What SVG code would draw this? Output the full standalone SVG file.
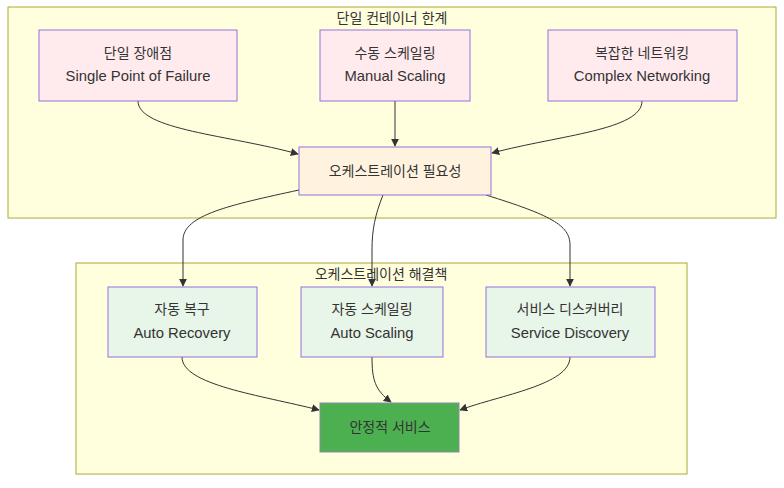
<svg xmlns="http://www.w3.org/2000/svg" width="784" height="488" viewBox="0 0 784 488">
<defs>
<marker id="arr" viewBox="0 0 10 10" refX="9" refY="5" markerWidth="8" markerHeight="8" orient="auto" markerUnits="userSpaceOnUse">
<path d="M0,0 L10,5 L0,10 z" fill="#333"/>
</marker>
<style>
.cl{fill:#ffffde;stroke:#aaaa33;stroke-width:1}
.t{font-family:"Liberation Sans","Noto Sans CJK KR",sans-serif;font-size:14px;fill:#333;text-anchor:middle}
.l{font-size:14.8px}
.pk{fill:#ffebee;stroke:#9370db;stroke-width:1}
.or{fill:#fff3e0;stroke:#9370db;stroke-width:1}
.gr{fill:#e8f5e9;stroke:#9370db;stroke-width:1}
.fin{fill:#4caf50;stroke:#8a8aaa;stroke-width:1}
.e{fill:none;stroke:#333;stroke-width:1;marker-end:url(#arr)}
</style>
</defs>
<rect width="784" height="488" fill="#fff"/>
<g id="cluster-limits">
<rect class="cl" x="8" y="7" width="768" height="211"/>
<text class="t" x="392" y="23">단일 컨테이너 한계</text>
</g>
<g id="cluster-solutions">
<rect class="cl" x="76" y="263" width="611" height="211"/>
<text class="t" x="381" y="279">오케스트레이션 해결책</text>
</g>
<g id="connectors">
<path class="e" d="M138,101 C138,130 230,135 298,154"/>
<path class="e" d="M395,101 L395,146"/>
<path class="e" d="M642,101 C642,130 560,135 492,153"/>
<path class="e" d="M299,190 C230,205 183,215 183,240 L183,286"/>
<path class="e" d="M383,195 C375,215 372,230 372,250 L372,286"/>
<path class="e" d="M486,195 C550,215 570,225 570,245 L570,286"/>
<path class="e" d="M182,357 C182,385 260,395 319,410"/>
<path class="e" d="M372,357 C372,380 375,390 391,402"/>
<path class="e" d="M570,357 C570,385 500,395 460,410"/>
</g>
<g id="node-spof">
<rect class="pk" x="39" y="30" width="198" height="71"/>
<text class="t" x="138" y="58">단일 장애점</text>
<text class="t l" x="138" y="81">Single Point of Failure</text>
</g>
<g id="node-manual">
<rect class="pk" x="320" y="30" width="150" height="71"/>
<text class="t" x="395" y="58">수동 스케일링</text>
<text class="t l" x="395" y="81">Manual Scaling</text>
</g>
<g id="node-network">
<rect class="pk" x="548" y="30" width="189" height="71"/>
<text class="t" x="642" y="58">복잡한 네트워킹</text>
<text class="t l" x="642" y="81">Complex Networking</text>
</g>
<g id="node-need">
<rect class="or" x="299" y="147" width="192" height="48"/>
<text class="t" x="395" y="176">오케스트레이션 필요성</text>
</g>
<g id="node-recovery">
<rect class="gr" x="108" y="287" width="149" height="70"/>
<text class="t" x="182" y="314">자동 복구</text>
<text class="t l" x="182" y="338">Auto Recovery</text>
</g>
<g id="node-autoscale">
<rect class="gr" x="301" y="287" width="142" height="70"/>
<text class="t" x="372" y="314">자동 스케일링</text>
<text class="t l" x="372" y="338">Auto Scaling</text>
</g>
<g id="node-discovery">
<rect class="gr" x="486" y="287" width="169" height="70"/>
<text class="t" x="570" y="314">서비스 디스커버리</text>
<text class="t l" x="570" y="338">Service Discovery</text>
</g>
<g id="node-stable">
<rect class="fin" x="320" y="403" width="139" height="49"/>
<text class="t" x="390" y="432">안정적 서비스</text>
</g>
</svg>
